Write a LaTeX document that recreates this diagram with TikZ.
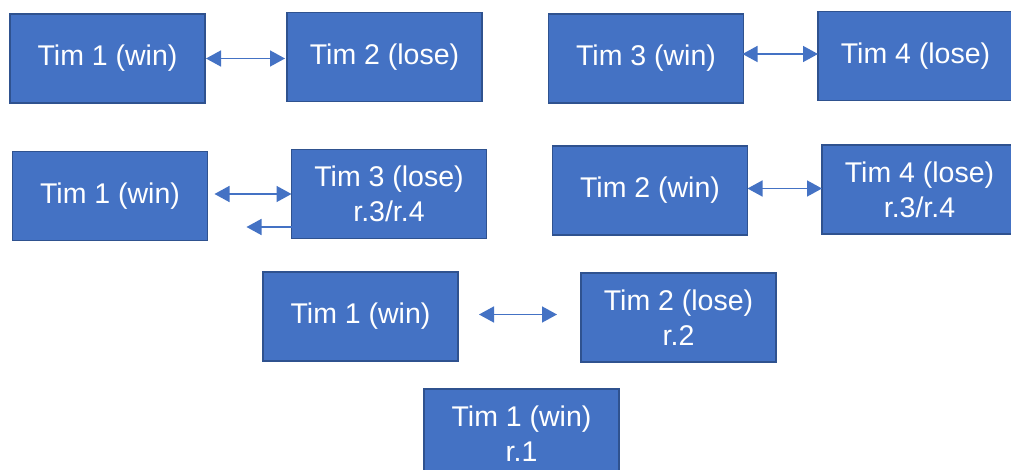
\documentclass[tikz,border=0pt]{standalone}
\usepackage{fontspec}
\setmainfont{Liberation Sans}
\usetikzlibrary{arrows.meta,calc}
\definecolor{boxfill}{HTML}{4472C4}
\definecolor{boxborder}{HTML}{2F528F}
\definecolor{arrowblue}{HTML}{4472C4}
\tikzset{
  teambox/.style={draw=boxborder, line width=1.8pt, fill=boxfill, text=white,
    minimum width=195pt, minimum height=89pt, inner sep=0pt, outer sep=0pt,
    align=center, font=\fontsize{28.5}{35}\selectfont},
  biarrow/.style={draw=arrowblue, line width=1.5pt,
    {Triangle[length=15pt,width=16pt]}-{Triangle[length=15pt,width=16pt]}},
  onearrow/.style={draw=arrowblue, line width=1.5pt,
    -{Triangle[length=15pt,width=16pt]}}
}
\begin{document}
\begin{tikzpicture}[x=1pt,y=-1pt]
\useasboundingbox (0,0) rectangle (1011,470);
\fill[white] (0,0) rectangle (1011,470);
\clip (0,0) rectangle (1011,470);
% row 1
\node[teambox] (A) at (107.5,58.5) {Tim 1 (win)};
\node[teambox] (B) at (384.5,57) {Tim 2 (lose)};
\node[teambox] (C) at (646,58.5) {Tim 3 (win)};
\node[teambox] (D) at (915.5,56) {Tim 4 (lose)};
% row 2
\node[teambox] (E) at (110,196) {Tim 1 (win)};
\node[teambox] (F) at (389,194) {Tim 3 (lose)\\r.3/r.4};
\node[teambox] (G) at (650,190.5) {Tim 2 (win)};
\node[teambox] (H) at (919.5,189.5) {Tim 4 (lose)\\r.3/r.4};
% row 3
\node[teambox] (I) at (360.5,316.5) {Tim 1 (win)};
\node[teambox] (J) at (678.5,317.5) {Tim 2 (lose)\\r.2};
% row 4
\node[teambox] (K) at (521.5,433.5) {Tim 1 (win)\\r.1};
% connectors
\draw[biarrow] ($(A.east)+(1,0)$) -- ($(A.east -| B.west)+(-2,0)$);
\draw[biarrow] ($(D.west -| C.east)+(-1,-2)$) -- ($(D.west)+(0,-2)$);
\draw[biarrow] ($(F.west -| E.east)+(7,0)$) -- (F.west);
\draw[onearrow] ($(F.west)+(0,33)$) -- ++(-45,0);
\draw[biarrow] ($(H.west -| G.east)+(0,-1)$) -- ($(H.west)+(0,-1)$);
\draw[biarrow] ($(I.east)+(21,-2)$) -- ($(I.east -| J.west)+(-24,-2)$);
\end{tikzpicture}
\end{document}
